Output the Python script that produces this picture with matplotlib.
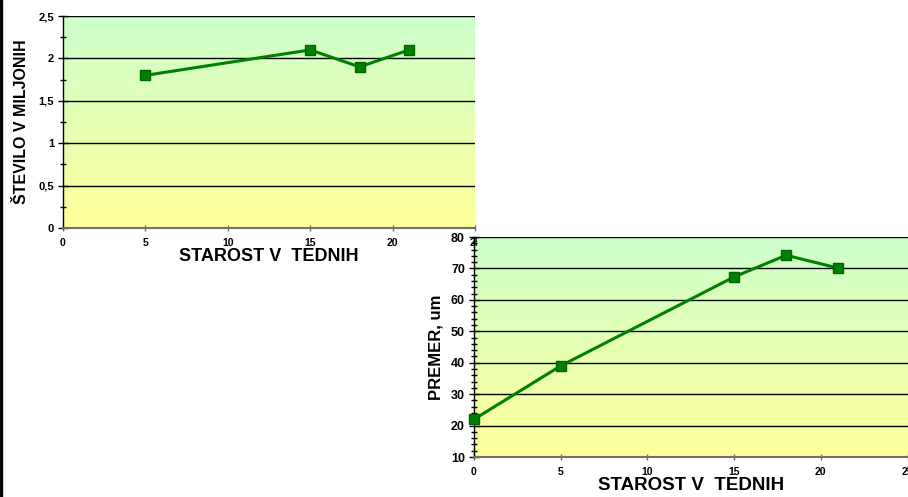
from matplotlib import pyplot as plt
from matplotlib import ticker as ticker
from matplotlib.transforms import Bbox, TransformedBbox
import numpy as np

plt.rcParams['font.family'] = ['Liberation Sans', 'DejaVu Sans']
plt.rcParams['font.weight'] = 'bold'

# Data
age_count = [5, 15, 18, 21]
count_mio = [1.8, 2.1, 1.9, 2.1]

age_diam = [0, 5, 15, 18, 21]
diameter = [22, 39, 67.3, 74.2, 70.1]

x_label = "STAROST V  TEDNIH"
y_label_top = "ŠTEVILO V MILJONIH"
y_label_bot = "PREMER, um"

W, H = 908, 497
LINE = '#008000'

fig = plt.figure(figsize=(W / 100, H / 100), dpi=100)

# left black edge
fig.patches.append(plt.Rectangle((0, 0), 2.0 / W, 1, transform=fig.transFigure,
                                 color='black', zorder=0))

grad = np.linspace(0, 1, 256).reshape(-1, 1)
bot_c = np.array([1.0, 1.0, 0.6])
top_c = np.array([0.8, 1.0, 0.8])
img = bot_c + grad * (top_c - bot_c)
img = img.reshape(256, 1, 3)


def style_axes(ax, xlim, ylim, major, minor, fs_y):
    ax.set_xlim(*xlim)
    ax.set_ylim(*ylim)
    ax.imshow(img, extent=(0, 1, 0, 1), transform=ax.transAxes, origin='lower',
              aspect='auto', zorder=0)
    for s in ['top', 'right']:
        ax.spines[s].set_visible(False)
    ax.spines['left'].set_color('black')
    ax.spines['left'].set_linewidth(1.0)
    ax.spines['bottom'].set_color('#707070')
    ax.spines['bottom'].set_linewidth(1.5)
    ax.yaxis.set_major_locator(ticker.MultipleLocator(major))
    ax.yaxis.set_minor_locator(ticker.MultipleLocator(minor))
    ax.xaxis.set_major_locator(ticker.MultipleLocator(5))
    ax.yaxis.grid(True, which='major', color='black', linewidth=1.0, zorder=1)
    ax.set_axisbelow(True)
    ax.tick_params(axis='y', which='major', direction='inout', length=7, width=1,
                   labelsize=fs_y, pad=3)
    ax.tick_params(axis='y', which='minor', direction='inout', length=5, width=1)
    ax.tick_params(axis='x', which='major', direction='inout', length=5, width=1,
                   color='#707070', labelsize=7.5, pad=5)


# Top chart
ax1 = fig.add_axes([63 / W, (H - 228) / H, (475 - 63) / W, (228 - 16) / H])
style_axes(ax1, (0, 25), (0, 2.5), 0.5, 0.25, 8)
ax1.yaxis.set_major_formatter(ticker.FuncFormatter(lambda v, p: f"{v:g}".replace('.', ',')))
ax1.plot(age_count, count_mio, color=LINE, linewidth=2.2, marker='s', markersize=6.5,
         markerfacecolor=LINE, markeredgecolor='#006400', zorder=3, clip_on=False)
ax1.set_xlabel(x_label, fontsize=13, fontweight='bold', labelpad=0)
ax1.set_ylabel(y_label_top, fontsize=11.5, fontweight='bold', labelpad=7)

# Bottom chart
ax2 = fig.add_axes([474 / W, (H - 457) / H, (907.5 - 474) / W, (457 - 237) / H])
style_axes(ax2, (0, 25), (10, 80), 10, 2, 9)
ax2.plot(age_diam, diameter, color=LINE, linewidth=2.2, marker='s', markersize=6.5,
         markerfacecolor=LINE, markeredgecolor='#006400', zorder=3, clip_on=False)
ax2.set_xlabel(x_label, fontsize=13.5, fontweight='bold', labelpad=0)
ax2.set_ylabel(y_label_bot, fontsize=12, fontweight='bold', labelpad=5)

# top chart labels stay above the lower chart, "25" cut as in the source
ax1.set_zorder(3)
ax2.set_zorder(2)
ax1.patch.set_visible(False)
ticks = ax1.xaxis.get_major_ticks()
clip = TransformedBbox(Bbox.from_extents(0, 0, 477 / W, 1), fig.transFigure)
for t in ticks:
    t.label1.set_clip_box(clip)
    t.label1.set_clip_on(True)

fig.savefig("out.png", dpi=100)
